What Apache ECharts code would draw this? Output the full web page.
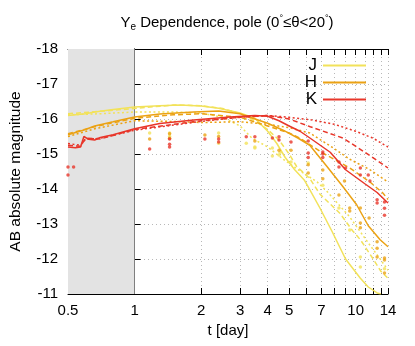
<!DOCTYPE html>
<html>
<head>
<meta charset="utf-8">
<script src="https://cdn.jsdelivr.net/npm/echarts@6/dist/echarts.min.js"></script>
<style>
  html, body { margin: 0; padding: 0; background: #fff; }
  #chart { width: 415px; height: 346px; }
</style>
</head>
<body>
<div id="chart"></div>
<script>
// time axis (days), tick positions and labels
var tickDays = [0.5, 1, 2, 3, 4, 5, 6, 7, 8, 9, 10, 11, 12, 13, 14];
var labelDays = [0.5, 1, 2, 3, 4, 5, 7, 10, 14];

// model light curves [t(day), AB mag]
var jSolid = [[0.5,-16.1],[0.6,-16.15],[0.66,-16.2],[0.8,-16.27],[1.0,-16.34],[1.3,-16.38],[1.6,-16.4],[2.0,-16.37],[2.4,-16.31],[3.0,-16.17],[3.5,-16.02],[4.0,-15.65],[4.4,-15.3],[4.8,-14.9],[5.3,-14.55],[5.85,-14.26],[6.1,-14.06],[6.9,-13.45],[7.8,-12.8],[9.0,-12.0],[10.5,-11.45],[11.4,-11.2],[12.5,-11.03],[13.0,-11.0]];
var jDashed = [[0.5,-16.15],[0.7,-16.22],[1.0,-16.3],[1.5,-16.4],[2.0,-16.38],[2.5,-16.3],[3.0,-16.15],[3.5,-15.95],[4.0,-15.7],[4.5,-15.4],[5.0,-15.0],[5.4,-14.65],[6.2,-14.3],[6.9,-13.85],[8.5,-13.3],[9.7,-12.8],[10.5,-12.55],[12.0,-12.0],[13.0,-11.65],[14.0,-11.45]];
var jDotted = [[0.5,-16.12],[0.7,-16.15],[1.0,-16.2],[1.5,-16.2],[2.0,-16.17],[2.5,-16.05],[3.0,-15.8],[3.4,-15.45],[4.0,-15.2],[4.7,-14.85],[5.5,-14.55],[6.7,-14.2],[7.5,-13.9],[9.4,-13.2],[11.4,-12.46],[12.9,-12.0],[14.0,-11.68]];
var hSolid = [[0.5,-15.55],[0.6,-15.7],[0.66,-15.8],[0.8,-15.92],[1.0,-16.06],[1.3,-16.14],[1.85,-16.2],[2.4,-16.23],[3.0,-16.15],[3.4,-16.03],[4.0,-15.88],[4.7,-15.68],[5.5,-15.45],[6.2,-15.25],[7.4,-14.65],[8.8,-14.05],[10.1,-13.55],[11.4,-12.95],[12.9,-12.55],[14.0,-12.35]];
var hDashed = [[0.5,-15.58],[0.66,-15.78],[1.0,-16.02],[1.5,-16.12],[2.0,-16.15],[3.0,-16.05],[4.0,-15.8],[5.0,-15.6],[5.6,-15.45],[7.0,-15.05],[9.4,-14.6],[11.6,-14.2],[13.3,-13.88],[14.0,-13.7]];
var hDotted = [[0.5,-15.5],[0.66,-15.72],[1.0,-15.95],[1.5,-15.93],[2.0,-15.9],[3.0,-15.92],[4.0,-15.85],[5.0,-15.75],[6.2,-15.6],[7.8,-15.2],[9.4,-14.85],[11.6,-14.55],[14.0,-14.2]];
var kSolid = [[0.5,-15.2],[0.54,-15.18],[0.57,-15.2],[0.59,-15.5],[0.62,-15.42],[0.66,-15.4],[0.7,-15.47],[0.8,-15.55],[1.0,-15.72],[1.3,-15.87],[1.85,-15.97],[2.7,-16.06],[3.5,-16.1],[4.0,-16.08],[4.5,-15.95],[5.0,-15.8],[5.6,-15.65],[6.23,-15.45],[7.67,-15.05],[9.0,-14.55],[11.0,-14.15],[12.5,-13.9],[14.0,-13.6]];
var kDashed = [[0.5,-15.25],[0.57,-15.22],[0.6,-15.45],[0.7,-15.43],[1.0,-15.7],[2.0,-15.95],[3.0,-16.05],[4.0,-16.1],[5.0,-16.0],[6.23,-15.78],[8.8,-15.45],[11.0,-15.05],[14.0,-14.6]];
var kDotted = [[0.5,-15.3],[0.57,-15.25],[0.6,-15.42],[0.7,-15.45],[1.0,-15.68],[2.0,-15.93],[3.0,-16.05],[4.0,-16.1],[5.0,-16.05],[6.23,-15.98],[8.0,-15.85],[10.0,-15.65],[12.0,-15.45],[14.0,-15.2]];

// observed points [t(day), AB mag]
var jObs = [[1.17,-15.6],[1.44,-15.6],[1.44,-15.5],[2.4,-15.6],[2.4,-15.31],[3.2,-15.31],[3.5,-15.2],[3.5,-15.17],[4.2,-15.17],[4.2,-14.94],[4.5,-14.97],[4.55,-15.05],[5.1,-14.77],[6.1,-14.74],[7.1,-14.11],[8.4,-13.46],[9.4,-12.83],[10.5,-12.06],[10.5,-11.77],[13.5,-11.72]];
var hObs = [[1.17,-15.43],[1.44,-15.58],[1.44,-15.45],[2.08,-15.54],[2.4,-15.5],[3.5,-15.37],[4.5,-15.11],[5.1,-15.11],[6.1,-14.69],[6.1,-14.46],[7.1,-14.54],[7.1,-14.29],[8.4,-13.83],[8.9,-14.23],[9.4,-13.46],[9.4,-13.37],[10.5,-13.46],[10.5,-13.03],[10.5,-12.89],[11.5,-13.17],[12.5,-12.49],[12.5,-12.31],[12.5,-12.06],[13.5,-12.03],[13.5,-11.97],[13.5,-11.6]];
var kObs = [[0.5,-14.63],[0.53,-14.63],[0.5,-14.4],[1.17,-15.14],[1.44,-15.43],[1.44,-15.28],[1.44,-15.2],[2.08,-15.43],[2.4,-15.43],[2.4,-15.34],[3.2,-15.49],[3.5,-15.49],[4.2,-15.46],[4.5,-15.49],[4.5,-15.4],[5.1,-15.34],[6.1,-15.37],[6.1,-15.03],[6.1,-14.9],[7.1,-15.06],[7.1,-15.0],[7.1,-14.9],[8.4,-14.77],[8.4,-14.63],[9.0,-14.6],[10.5,-14.6],[10.5,-14.4],[11.4,-14.4],[11.6,-14.23],[12.5,-13.69],[12.5,-13.6],[13.5,-13.63],[13.5,-13.45],[13.5,-13.25]];

var colJ = '#f2e25a', colH = '#eba214', colK = '#e8362a';

function lg(arr) {
  return arr.map(function (p) { return [Math.log10(p[0]), p[1]]; });
}
function lineSeries(name, data, color, type) {
  return {
    name: name, type: 'line', data: lg(data), symbol: 'none', z: 3,
    lineStyle: { color: color, width: 1.5, type: type },
    itemStyle: { color: color }
  };
}
function obsSeries(name, data, color) {
  return {
    name: name, type: 'scatter', data: lg(data), symbol: 'circle', symbolSize: 3.5, z: 4,
    itemStyle: { color: color }
  };
}

var font = 'Liberation Sans, Arial, Helvetica, sans-serif';
var tickVals = tickDays.map(Math.log10);
var labelVals = labelDays.map(Math.log10);
var xMin = Math.log10(0.5), xMax = Math.log10(14);

var chart = echarts.init(document.getElementById('chart'));
chart.setOption({
  backgroundColor: '#fff',
  animation: false,
  title: {
    text: 'Y{sub|e} Dependence, pole (0{sup|°}≤θ<20{sup|°})',
    left: 227, top: 14, padding: 0, textAlign: 'center',
    textStyle: {
      fontFamily: font, fontSize: 15, fontWeight: 'normal', color: '#000',
      rich: {
        sub: { fontFamily: font, fontSize: 10, padding: [8, 0, 0, 0], color: '#000' },
        sup: { fontFamily: font, fontSize: 9, padding: [0, 0, 8, 0], color: '#000' }
      }
    }
  },
  legend: {
    data: ['J', 'H', 'K'],
    orient: 'vertical', align: 'right',
    right: 44, top: 52,
    icon: 'rect', itemWidth: 43, itemHeight: 2, itemGap: 0,
    textStyle: { fontFamily: font, fontSize: 17, color: '#000', lineHeight: 14, padding: [0, 1, 0, 0] }
  },
  grid: { left: 67, right: 27, top: 49, bottom: 52 },
  xAxis: [{
    type: 'value', min: xMin, max: xMax,
    name: 't [day]', nameLocation: 'middle', nameGap: 29,
    nameTextStyle: { fontFamily: font, fontSize: 15, color: '#000' },
    axisLine: { lineStyle: { color: '#000', width: 1 } },
    axisTick: { inside: true, length: 6, customValues: tickVals, lineStyle: { color: '#000' } },
    axisLabel: { customValues: labelVals, margin: 9, fontFamily: font, fontSize: 15, color: '#000',
      formatter: function (v) { return String(Math.round(Math.pow(10, v) * 10) / 10); } },
    splitLine: { show: true, lineStyle: { color: '#b8b8b8', type: [1, 3], width: 1 } }
  }, {
    type: 'value', min: xMin, max: xMax, position: 'top',
    axisLine: { lineStyle: { color: '#000', width: 1 } },
    axisTick: { inside: true, length: 6, customValues: tickVals, lineStyle: { color: '#000' } },
    axisLabel: { show: false },
    splitLine: { show: false }
  }],
  yAxis: [{
    type: 'value', min: -18, max: -11, interval: 1, inverse: true,
    name: 'AB absolute magnitude', nameLocation: 'middle', nameGap: 44,
    nameTextStyle: { fontFamily: font, fontSize: 15.5, color: '#000' },
    axisLine: { show: true, lineStyle: { color: '#777', width: 1 } },
    axisTick: { show: true, inside: true, length: 6, lineStyle: { color: '#000' } },
    axisLabel: { margin: 10, fontFamily: font, fontSize: 15, color: '#000' },
    splitLine: { show: true, lineStyle: { color: '#b8b8b8', type: [1, 3], width: 1 } }
  }, {
    type: 'value', min: -18, max: -11, interval: 1, inverse: true, position: 'right',
    axisLine: { show: true, lineStyle: { color: '#000', width: 1 } },
    axisTick: { show: true, inside: true, length: 6, lineStyle: { color: '#000' } },
    axisLabel: { show: false },
    splitLine: { show: false }
  }],
  series: [
    {
      name: 'shade', type: 'line', data: [], z: 1, silent: true,
      markArea: {
        silent: true,
        itemStyle: { color: '#e3e3e3' },
        data: [[{ xAxis: xMin }, { xAxis: Math.log10(1) }]]
      }
    },
    lineSeries('J', jSolid, colJ, 'solid'),
    lineSeries('J dashed', jDashed, colJ, [5, 3]),
    lineSeries('J dotted', jDotted, colJ, [2, 2.5]),
    lineSeries('H', hSolid, colH, 'solid'),
    lineSeries('H dashed', hDashed, colH, [5, 3]),
    lineSeries('H dotted', hDotted, colH, [2, 2.5]),
    lineSeries('K', kSolid, colK, 'solid'),
    lineSeries('K dashed', kDashed, colK, [5, 3]),
    lineSeries('K dotted', kDotted, colK, [2, 2.5]),
    obsSeries('J obs', jObs, colJ),
    obsSeries('H obs', hObs, colH),
    obsSeries('K obs', kObs, colK)
  ]
});
</script>
</body>
</html>
